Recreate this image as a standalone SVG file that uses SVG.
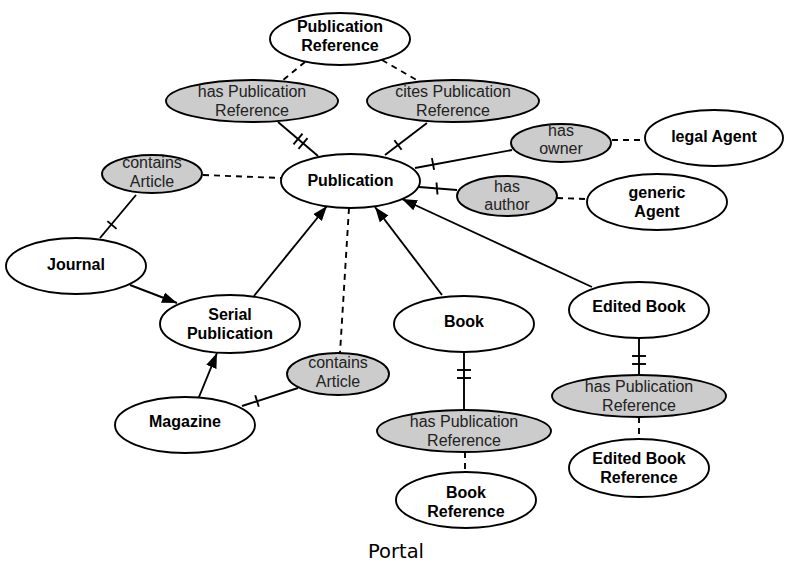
<svg xmlns="http://www.w3.org/2000/svg" width="787" height="566" viewBox="0 0 787 566">
<style>
.n ellipse{fill:#ffffff;stroke:#000;stroke-width:1.9}
.r ellipse{fill:#cccccc;stroke:#000;stroke-width:1.9}
.n text{font-family:"Liberation Sans",Arial,sans-serif;font-weight:bold;font-size:16px;text-anchor:middle;fill:#000}
.r text{font-family:"Liberation Sans",Arial,sans-serif;font-size:16px;text-anchor:middle;fill:#222}
.s{stroke:#000;stroke-width:1.9;fill:none}
.d{stroke:#000;stroke-width:1.9;fill:none;stroke-dasharray:6 5}
.a{stroke:#000;stroke-width:1.9;fill:none;marker-end:url(#ah)}
.cap{font-family:"DejaVu Sans",sans-serif;font-size:19.5px;text-anchor:middle;fill:#000}
</style>
<defs>
<marker id="ah" markerUnits="userSpaceOnUse" markerWidth="16" markerHeight="12" refX="15" refY="5.5" orient="auto">
<path d="M0,0 L15,5.5 L0,11 z" fill="#000"/>
</marker>
</defs>
<rect width="787" height="566" fill="#fff"/>
<g id="connectors">
<line class="d" x1="305" y1="62" x2="282" y2="81"/>
<line class="d" x1="382" y1="60" x2="420" y2="82"/>
<line class="d" x1="203" y1="175" x2="281" y2="178"/>
<line class="d" x1="612" y1="140" x2="646" y2="140"/>
<line class="d" x1="557" y1="198" x2="587" y2="199"/>
<line class="d" x1="349" y1="208" x2="340" y2="353"/>
<line class="d" x1="465" y1="452" x2="465" y2="472"/>
<line class="d" x1="639" y1="417" x2="639" y2="439"/>
<line class="s" x1="278" y1="122" x2="318" y2="156"/>
<line class="s" x1="293.5" y1="144.3" x2="302.5" y2="133.7"/>
<line class="s" x1="298.5" y1="148.8" x2="307.5" y2="138.2"/>
<line class="s" x1="427" y1="123" x2="385" y2="155"/>
<line class="s" x1="394.4" y1="140.2" x2="401.6" y2="149.8"/>
<line class="s" x1="100" y1="238" x2="136" y2="195"/>
<line class="s" x1="107.4" y1="221.1" x2="116.6" y2="228.9"/>
<line class="s" x1="415" y1="168" x2="512" y2="150"/>
<line class="s" x1="431.9" y1="158.1" x2="434.1" y2="169.9"/>
<line class="s" x1="419" y1="187" x2="457" y2="190"/>
<line class="s" x1="436.5" y1="182.5" x2="437.5" y2="194.5"/>
<line class="s" x1="242" y1="406" x2="298" y2="388"/>
<line class="s" x1="255.2" y1="395.3" x2="258.8" y2="406.7"/>
<line class="s" x1="464" y1="352" x2="464" y2="410"/>
<line class="s" x1="457" y1="370" x2="471" y2="370"/>
<line class="s" x1="457" y1="378" x2="471" y2="378"/>
<line class="s" x1="639" y1="338" x2="639" y2="375"/>
<line class="s" x1="632" y1="356" x2="646" y2="356"/>
<line class="s" x1="632" y1="364" x2="646" y2="364"/>
<line class="a" x1="130" y1="285" x2="177" y2="303"/>
<line class="a" x1="254" y1="296" x2="327" y2="206"/>
<line class="a" x1="199" y1="397" x2="217" y2="353"/>
<line class="a" x1="442" y1="295" x2="375" y2="207"/>
<line class="a" x1="592" y1="287" x2="402" y2="199"/>
</g>
<g id="publication-reference" class="n"><ellipse cx="340" cy="39" rx="70" ry="26"/><text x="340" y="32">Publication</text><text x="340" y="51">Reference</text></g>
<g id="has-publication-reference-1" class="r"><ellipse cx="252" cy="101" rx="86" ry="21"/><text x="252" y="97">has Publication</text><text x="252" y="116">Reference</text></g>
<g id="cites-publication-reference" class="r"><ellipse cx="453" cy="101" rx="86" ry="21"/><text x="453" y="97">cites Publication</text><text x="453" y="116">Reference</text></g>
<g id="publication" class="n"><ellipse cx="350.5" cy="181" rx="69.5" ry="27"/><text x="350.5" y="186">Publication</text></g>
<g id="contains-article-1" class="r"><ellipse cx="152" cy="174" rx="50" ry="19"/><text x="152" y="168">contains</text><text x="152" y="187">Article</text></g>
<g id="has-owner" class="r"><ellipse cx="561" cy="143" rx="50" ry="19"/><text x="561" y="136">has</text><text x="561" y="154">owner</text></g>
<g id="legal-agent" class="n"><ellipse cx="714" cy="138" rx="69" ry="28"/><text x="714" y="142">legal Agent</text></g>
<g id="has-author" class="r"><ellipse cx="507" cy="196" rx="50" ry="20"/><text x="507" y="192">has</text><text x="507" y="210">author</text></g>
<g id="generic-agent" class="n"><ellipse cx="657" cy="202" rx="70" ry="28"/><text x="657" y="198">generic</text><text x="657" y="217">Agent</text></g>
<g id="journal" class="n"><ellipse cx="76" cy="266" rx="70" ry="28"/><text x="76" y="270">Journal</text></g>
<g id="serial-publication" class="n"><ellipse cx="230" cy="324" rx="70" ry="29"/><text x="230" y="320">Serial</text><text x="230" y="339">Publication</text></g>
<g id="magazine" class="n"><ellipse cx="185" cy="425" rx="70" ry="28"/><text x="185" y="427">Magazine</text></g>
<g id="contains-article-2" class="r"><ellipse cx="338" cy="374" rx="51" ry="21"/><text x="338" y="368">contains</text><text x="338" y="387">Article</text></g>
<g id="book" class="n"><ellipse cx="464" cy="324" rx="70" ry="28"/><text x="464" y="327">Book</text></g>
<g id="has-publication-reference-2" class="r"><ellipse cx="464" cy="431" rx="87" ry="21"/><text x="464" y="427">has Publication</text><text x="464" y="446">Reference</text></g>
<g id="book-reference" class="n"><ellipse cx="466" cy="500" rx="70" ry="28"/><text x="466" y="498">Book</text><text x="466" y="517">Reference</text></g>
<g id="edited-book" class="n"><ellipse cx="639" cy="310" rx="70" ry="28"/><text x="639" y="312">Edited Book</text></g>
<g id="has-publication-reference-3" class="r"><ellipse cx="639" cy="396" rx="87" ry="21"/><text x="639" y="392">has Publication</text><text x="639" y="411">Reference</text></g>
<g id="edited-book-reference" class="n"><ellipse cx="639" cy="468" rx="70" ry="29"/><text x="639" y="464">Edited Book</text><text x="639" y="483">Reference</text></g>
<text class="cap" x="396" y="558">Portal</text>
</svg>
